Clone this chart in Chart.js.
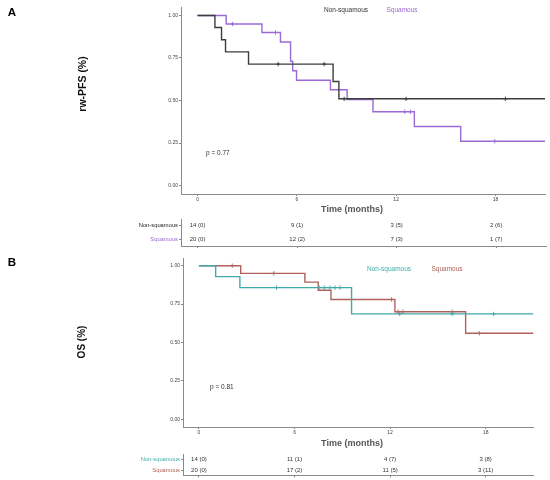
<!DOCTYPE html>
<html>
<head>
<meta charset="UTF-8">
<script src="https://cdn.jsdelivr.net/npm/chart.js"></script>
<style>
  body { margin: 0; background: #fff; }
  #wrap { position: relative; width: 550px; height: 480px; font-family: "Liberation Sans", Arial, sans-serif; }
  canvas { position: absolute; left: 0; top: 0; }
  .t { position: absolute; white-space: nowrap; transform: translate(-50%, -50%); color: #333; line-height: 1; }
  .lt { position: absolute; white-space: nowrap; transform: translate(0, -50%); color: #333; line-height: 1; }
</style>
</head>
<body>
<div id="wrap">
  <canvas id="kmA" width="550" height="480"></canvas>
  <canvas id="tabA" width="550" height="480"></canvas>
  <canvas id="kmB" width="550" height="480"></canvas>
  <canvas id="tabB" width="550" height="480"></canvas>

  <div class="t" style="left:12px;top:13px;font-size:11.5px;font-weight:bold;color:#000">A</div>
  <div class="t" style="left:82px;top:84px;font-size:10.5px;font-weight:bold;color:#111;transform:translate(-50%,-50%) rotate(-90deg)">rw-PFS (%)</div>
  <div class="t" style="left:346px;top:10px;font-size:6.5px;color:#333">Non-squamous</div>
  <div class="t" style="left:402px;top:10px;font-size:6.5px;color:#9a6ad6">Squamous</div>
  <div class="lt" style="left:206px;top:153px;font-size:6.5px">p = 0.77</div>
  <div class="t" style="left:352px;top:209px;font-size:9px;font-weight:bold;color:#555">Time (months)</div>

  <div class="t" style="left:12px;top:263px;font-size:11.5px;font-weight:bold;color:#000">B</div>
  <div class="t" style="left:82px;top:342px;font-size:10px;font-weight:bold;color:#111;transform:translate(-50%,-50%) rotate(-90deg)">OS (%)</div>
  <div class="t" style="left:389px;top:269px;font-size:6.5px;color:#42a9aa">Non-squamous</div>
  <div class="t" style="left:447px;top:269px;font-size:6.5px;color:#b0615c">Squamous</div>
  <div class="lt" style="left:210px;top:387px;font-size:6.5px">p = 0.81</div>
  <div class="t" style="left:352px;top:443px;font-size:9px;font-weight:bold;color:#555">Time (months)</div>
</div>
<script>
  const timeTicks = [0, 6, 12, 18];
  const survTicks = [0, 0.25, 0.5, 0.75, 1];
  const groups = ['Non-squamous', 'Squamous'];

  // A: rw-PFS, step times (months) and survival after each step
  const pfsNonTime = [0, 1.05, 1.45, 1.69, 3.08, 8.19, 8.54, 21];
  const pfsNonSurv = [1, 0.929, 0.857, 0.786, 0.714, 0.612, 0.51, 0.51];
  const pfsNonCens = [4.87, 7.65, 8.86, 12.6, 18.6];
  const pfsSqTime = [0, 1.73, 3.89, 5.01, 5.62, 5.75, 5.98, 8.03, 9.04, 10.6, 13.1, 15.9, 21];
  const pfsSqSurv = [1, 0.95, 0.9, 0.844, 0.731, 0.675, 0.619, 0.563, 0.506, 0.434, 0.347, 0.26, 0.26];
  const pfsSqCens = [2.11, 4.71, 12.52, 12.87, 17.96];
  const pfsRiskNon = [14, 9, 3, 2];
  const pfsEventsNon = [0, 1, 5, 6];
  const pfsRiskSq = [20, 12, 7, 1];
  const pfsEventsSq = [0, 2, 3, 7];

  // B: OS
  const osNonTime = [0, 1.05, 2.57, 9.58, 21];
  const osNonSurv = [1, 0.929, 0.857, 0.686, 0.686];
  const osNonCens = [4.87, 7.55, 7.87, 8.22, 8.54, 8.85, 12.6, 15.9, 18.5];
  const osSqTime = [0, 2.62, 6.65, 7.49, 8.29, 12.3, 16.74, 21];
  const osSqSurv = [1, 0.95, 0.893, 0.84, 0.78, 0.7, 0.56, 0.56];
  const osSqCens = [2.09, 4.7, 12.09, 12.5, 12.8, 15.9, 17.6];
  const osRiskNon = [14, 11, 4, 3];
  const osEventsNon = [0, 1, 7, 8];
  const osRiskSq = [20, 17, 11, 3];
  const osEventsSq = [0, 2, 5, 11];

  const FONT = '"Liberation Sans", Arial, sans-serif';
  const AXIS = '#8a8a8a';

  function stepAt(times, surv, t) {
    let s = surv[0];
    for (let i = 0; i < times.length; i++) if (times[i] <= t) s = surv[i];
    return s;
  }

  function baseOptions(area) {
    return {
      responsive: false,
      animation: false,
      events: [],
      layout: { padding: { left: 0, top: area.top, right: 550 - area.right, bottom: 0 } },
      plugins: { legend: { display: false }, tooltip: { enabled: false } },
      scales: {
        x: {
          type: 'linear', min: -1, max: 21,
          afterBuildTicks: s => { s.ticks = timeTicks.map(v => ({ value: v })); },
          afterFit: s => { s.height = 480 - area.bottom; },
          grid: { drawOnChartArea: false, tickLength: 2, color: AXIS },
          border: { color: AXIS, width: 1 },
          ticks: { font: { size: 5, family: FONT }, color: '#444', padding: 1, maxRotation: 0, autoSkip: false }
        }
      }
    };
  }

  function kmChart(id, area, series) {
    const datasets = [];
    series.forEach(s => {
      datasets.push({
        data: s.time.map((t, i) => ({ x: t, y: s.surv[i] })),
        showLine: true, stepped: true, borderColor: s.color, borderWidth: 1.4,
        pointRadius: 0, fill: false
      });
      datasets.push({
        data: s.cens.map(t => ({ x: t, y: stepAt(s.time, s.surv, t) })),
        pointStyle: 'cross', pointRadius: 2.2, borderColor: s.color, borderWidth: 0.9
      });
    });
    const opts = baseOptions(area);
    opts.scales.y = {
      min: -0.05, max: 1.05,
      afterBuildTicks: s => { s.ticks = survTicks.map(v => ({ value: v })); },
      afterFit: s => { s.width = area.left; },
      grid: { drawOnChartArea: false, tickLength: 2, color: AXIS },
      border: { color: AXIS, width: 1 },
      ticks: { font: { size: 5, family: FONT }, color: '#444', padding: 1, callback: v => v.toFixed(2) }
    };
    new Chart(document.getElementById(id), { type: 'scatter', data: { datasets }, options: opts });
  }

  function riskTable(id, area, rows) {
    const opts = baseOptions(area);
    opts.scales.x.ticks.display = false;
    opts.scales.y = {
      type: 'category', labels: groups, offset: true,
      afterFit: s => { s.width = area.left; },
      grid: { drawOnChartArea: false, tickLength: 2, color: AXIS, offset: false },
      border: { color: AXIS, width: 1 },
      ticks: { font: { size: 5.8, family: FONT }, padding: 1, color: ctx => rows[ctx.index].color }
    };
    const riskText = {
      id: 'riskText',
      afterDatasetsDraw(chart) {
        const ctx = chart.ctx, xs = chart.scales.x, ys = chart.scales.y;
        ctx.save();
        ctx.font = '6px ' + FONT;
        ctx.fillStyle = '#333';
        ctx.textAlign = 'center';
        ctx.textBaseline = 'middle';
        rows.forEach((r, ri) => {
          timeTicks.forEach((t, ti) => {
            ctx.fillText(r.risk[ti] + ' (' + r.events[ti] + ')', xs.getPixelForValue(t), ys.getPixelForValue(ri));
          });
        });
        ctx.restore();
      }
    };
    new Chart(document.getElementById(id), {
      type: 'scatter',
      data: { datasets: [{ data: groups.map(g => ({ x: 0, y: g })), pointRadius: 0 }] },
      options: opts,
      plugins: [riskText]
    });
  }

  kmChart('kmA', { left: 181, right: 545.5, top: 7, bottom: 194 }, [
    { time: pfsNonTime, surv: pfsNonSurv, cens: pfsNonCens, color: '#3d3d3d' },
    { time: pfsSqTime, surv: pfsSqSurv, cens: pfsSqCens, color: '#9a6ad6' }
  ]);
  riskTable('tabA', { left: 181, right: 546, top: 219, bottom: 246 }, [
    { risk: pfsRiskNon, events: pfsEventsNon, color: '#222' },
    { risk: pfsRiskSq, events: pfsEventsSq, color: '#9a6ad6' }
  ]);
  kmChart('kmB', { left: 183, right: 533.5, top: 258, bottom: 427 }, [
    { time: osNonTime, surv: osNonSurv, cens: osNonCens, color: '#42a9aa' },
    { time: osSqTime, surv: osSqSurv, cens: osSqCens, color: '#b0615c' }
  ]);
  riskTable('tabB', { left: 183, right: 533.5, top: 454.5, bottom: 478 }, [
    { risk: osRiskNon, events: osEventsNon, color: '#42a9aa' },
    { risk: osRiskSq, events: osEventsSq, color: '#b0615c' }
  ]);
</script>
</body>
</html>
